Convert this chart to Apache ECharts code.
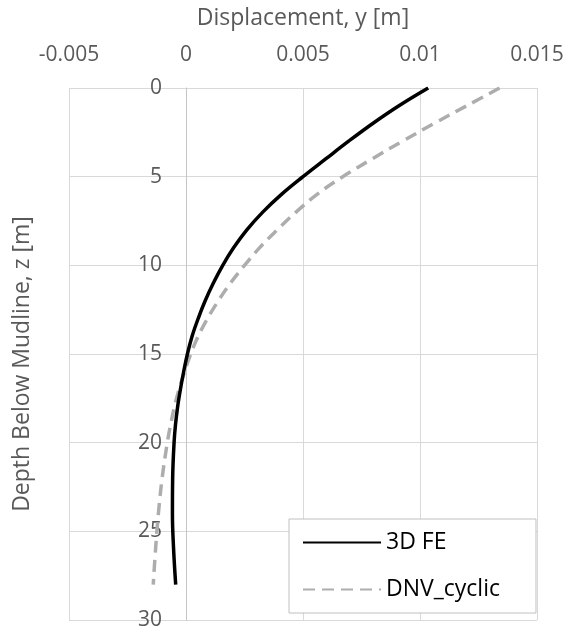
<!DOCTYPE html>
<html>
<head>
<meta charset="utf-8">
<script src="https://cdn.jsdelivr.net/npm/echarts@6/dist/echarts.min.js"></script>
<style>
  html, body { margin: 0; padding: 0; background: #fff; }
  #chart { width: 568px; height: 628px; }
</style>
</head>
<body>
<div id="chart"></div>
<script>
// depth below mudline, z [m]
const depth = [0, 1, 2, 3, 4, 5, 6, 7, 8, 9, 10, 11, 12, 13, 14, 15, 16, 17, 18, 19, 20, 22, 24, 26, 28]
// displacement y [m]
const fe3d = [0.01035, 0.0091, 0.00798, 0.00695, 0.00597, 0.0050, 0.00408, 0.00328, 0.0026, 0.00204, 0.00157,
  0.00117, 0.00082, 0.00052, 0.00026, 0.00006, -0.0001, -0.00024, -0.00036, -0.00045, -0.00051,
  -0.00057, -0.00058, -0.00053, -0.00044]
const dnvCyclic = [0.0134, 0.0120, 0.0106, 0.00925, 0.00795, 0.0067, 0.0056, 0.0047, 0.0039, 0.00315, 0.0025,
  0.0019, 0.00138, 0.00092, 0.00052, 0.0002, -0.00006, -0.0003, -0.0005, -0.00066, -0.0008,
  -0.00102, -0.00118, -0.0013, -0.0014]
const xTicks = { min: -0.005, max: 0.015, step: 0.005 }
const zTicks = { min: 0, max: 30, step: 5 }

const font = '"Open Sans", "Liberation Sans", sans-serif'
const textGray = '#595959'
const gridGray = '#d9d9d9'

const gridLeft = 69
const gridWidth = 468
// depth axis sits on the x = 0 line, as in the original
const zeroShift = gridWidth * (0 - xTicks.min) / (xTicks.max - xTicks.min)

const chart = echarts.init(document.getElementById('chart'))

chart.setOption({
  animation: false,
  textStyle: { fontFamily: font },
  grid: { left: gridLeft, width: gridWidth, top: 88, bottom: 8, containLabel: false, outerBoundsMode: 'none' },
  legend: {
    orient: 'vertical',
    left: 289,
    top: 519,
    itemWidth: 78,
    itemHeight: 24,
    itemGap: 24,
    padding: [12, 36, 12, 13],
    backgroundColor: '#fff',
    borderColor: '#c0c0c0',
    borderWidth: 1,
    borderRadius: 0,
    itemStyle: { opacity: 0 },
    textStyle: { color: '#000', fontSize: 23, fontFamily: font },
    data: ['3D FE', 'DNV_cyclic'],
  },
  xAxis: {
    type: 'value',
    position: 'top',
    min: xTicks.min,
    max: xTicks.max,
    interval: xTicks.step,
    name: 'Displacement, y [m]',
    nameLocation: 'middle',
    nameGap: 58,
    nameTextStyle: { color: textGray, fontSize: 23, fontFamily: font },
    axisLine: { show: false, onZero: false },
    axisTick: { show: false },
    axisLabel: { color: textGray, fontSize: 21, margin: 22, fontFamily: font },
    splitLine: { lineStyle: { color: gridGray, width: 1 } },
  },
  yAxis: {
    type: 'value',
    inverse: true,
    min: zTicks.min,
    max: zTicks.max,
    interval: zTicks.step,
    offset: -zeroShift,
    name: 'Depth Below Mudline, z [m]',
    nameLocation: 'middle',
    nameGap: 152,
    nameTextStyle: { color: textGray, fontSize: 23, fontFamily: font, padding: [0, 20, 0, 0] },
    axisLine: { show: true, onZero: false, lineStyle: { color: '#c4c4c4', width: 1 } },
    axisTick: { show: false },
    axisLabel: { color: textGray, fontSize: 21, margin: 24, fontFamily: font },
    splitLine: { lineStyle: { color: gridGray, width: 1 } },
  },
  series: [
    {
      name: '3D FE',
      type: 'line',
      data: depth.map((z, i) => [fe3d[i], z]),
      smooth: 0.4,
      symbol: 'none',
      lineStyle: { color: '#000', width: 3.5 },
      itemStyle: { color: '#000' },
      z: 3,
    },
    {
      name: 'DNV_cyclic',
      type: 'line',
      data: depth.map((z, i) => [dnvCyclic[i], z]),
      smooth: 0.4,
      symbol: 'none',
      lineStyle: { color: '#adadad', width: 3.5, type: [12, 7] },
      itemStyle: { color: '#adadad' },
      z: 2,
    },
  ],
})
</script>
</body>
</html>
